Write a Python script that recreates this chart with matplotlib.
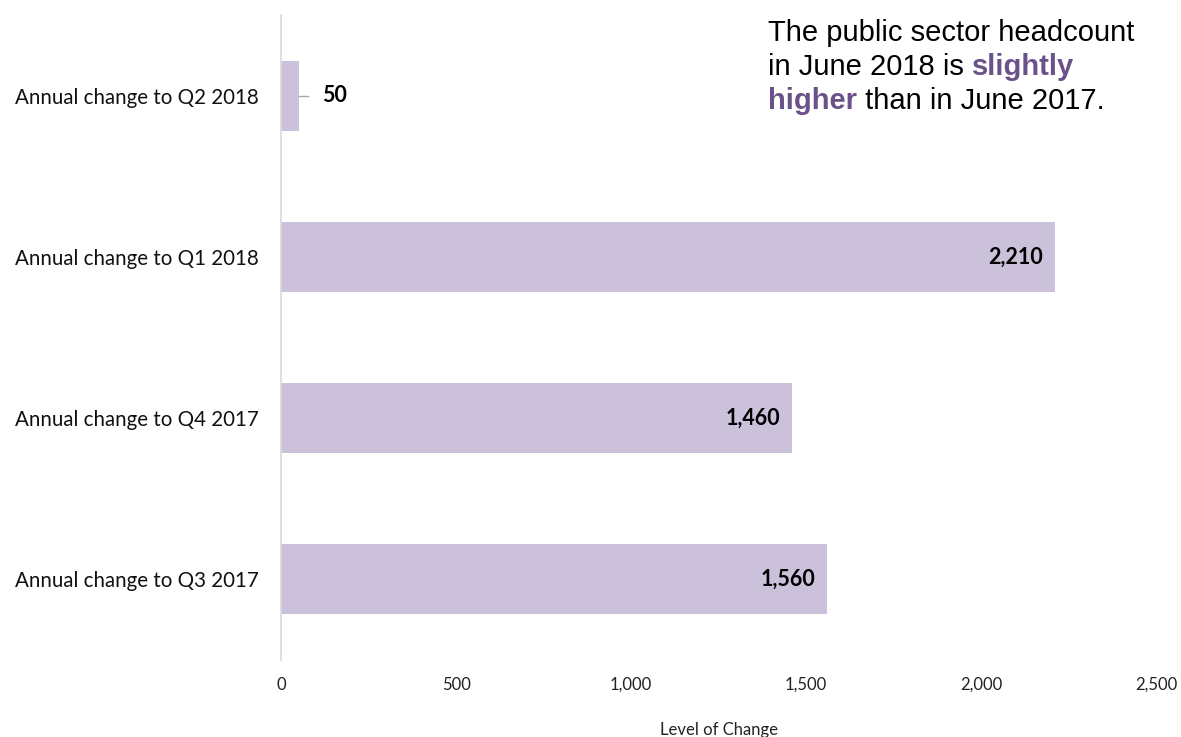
import matplotlib.pyplot as plt
from matplotlib.ticker import FuncFormatter

# annual change in public sector headcount, top to bottom
categories = ['Annual change to Q2 2018', 'Annual change to Q1 2018',
              'Annual change to Q4 2017', 'Annual change to Q3 2017']
values = [50, 2210, 1460, 1560]

bar_color = '#CBC1DB'
purple = '#6B5189'

plt.rcParams['font.family'] = ['Lato', 'DejaVu Sans']

fig = plt.figure(figsize=(11.81, 7.37), dpi=100)
ax = fig.add_axes([0.238, 0.1045, 0.741, 0.8752])

pos = list(range(len(categories)))
ax.barh(pos, values, height=0.435, color=bar_color, zorder=2)
ax.set_ylim(3.5, -0.5)
ax.set_xlim(0, 2500)
ax.set_yticks(pos)
ax.set_yticklabels(categories, fontsize=14.8, color='#111111')
ax.set_xticks([0, 500, 1000, 1500, 2000, 2500])
ax.xaxis.set_major_formatter(FuncFormatter(lambda v, p: f'{v:,.0f}'))
ax.tick_params(axis='x', length=0, pad=12, labelsize=12, colors='#222222')
ax.tick_params(axis='y', length=0, pad=16)

for s in ['top', 'right', 'bottom']:
    ax.spines[s].set_visible(False)
ax.spines['left'].set_color('#D9D9D9')
ax.spines['left'].set_linewidth(1.2)

ax.set_xlabel('Level of Change', fontsize=12, labelpad=21, color='#222222')

# value labels: inside the bar end, or outside with a leader for small bars
for y, v in zip(pos, values):
    txt = f'{v:,}'
    if v < 300:
        ax.plot([v, v + 28], [y, y], color='#A6A6A6', lw=1, zorder=3)
        ax.text(v + 67, y, txt, ha='left', va='center',
                fontsize=15.5, fontweight='bold', color='black')
    else:
        ax.text(v - 34, y, txt, ha='right', va='center',
                fontsize=15.5, fontweight='bold', color='black')

# commentary box, top right
fs = 21
x0 = 0.650
fig.text(x0, 0.955, 'The public sector headcount', fontsize=fs,
         family='Liberation Sans', va='center')
t1 = fig.text(x0, 0.909, 'in June 2018 is ', fontsize=fs,
              family='Liberation Sans', va='center')
fig.canvas.draw()
r = fig.canvas.get_renderer()
bb = t1.get_window_extent(r).transformed(fig.transFigure.inverted())
fig.text(bb.x1, 0.909, 'slightly', fontsize=fs, family='Liberation Sans',
         fontweight='bold', color=purple, va='center')
t2 = fig.text(x0, 0.863, 'higher', fontsize=fs, family='Liberation Sans',
              fontweight='bold', color=purple, va='center')
bb2 = t2.get_window_extent(r).transformed(fig.transFigure.inverted())
fig.text(bb2.x1, 0.863, ' than in June 2017.', fontsize=fs,
         family='Liberation Sans', va='center')

fig.savefig('out.png', dpi=100)
